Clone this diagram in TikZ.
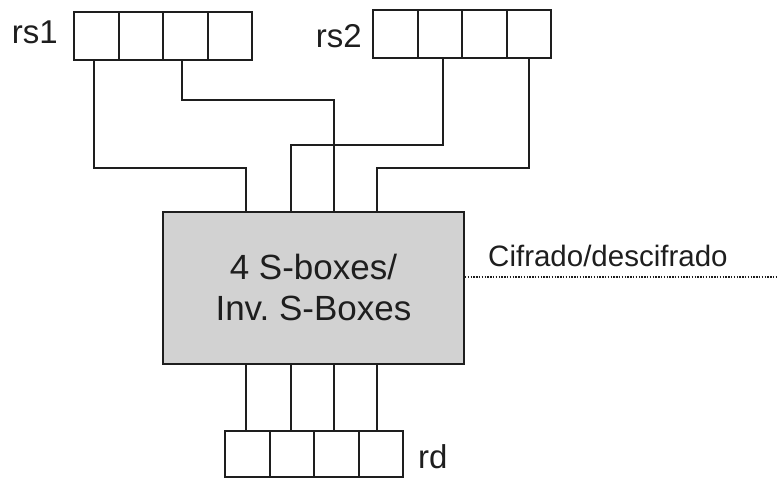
\documentclass[tikz,border=0pt]{standalone}
\usepackage{fontspec}
\setmainfont{Liberation Sans}
\frenchspacing
\definecolor{ink}{HTML}{1E1E1E}
\definecolor{boxgray}{HTML}{D2D2D2}
\begin{document}
\begin{tikzpicture}[x=1pt,y=-1pt,
  wire/.style={draw=ink, line width=1.9pt},
  cell/.style={draw=ink, line width=1.9pt, minimum width=44.6pt,
               minimum height=48pt, inner sep=0pt, outer sep=0pt},
  rdcell/.style={cell, minimum height=46pt},
  regname/.style={inner sep=0pt, text=ink, font=\fontsize{33}{38}\selectfont},
  sboxstyle/.style={draw=ink, line width=1.9pt, fill=boxgray,
               minimum width=301pt, minimum height=152pt, inner sep=0pt,
               align=center, text=ink, font=\fontsize{35}{41}\selectfont},
  ctrllabel/.style={inner sep=0pt, text=ink, font=\fontsize{29.5}{34}\selectfont},
  ctrlline/.style={draw=ink, line width=1.2pt, dash pattern=on 1.4pt off 1.4pt}]
\useasboundingbox (0,0) rectangle (778,478);

% source register rs1
\node[cell, anchor=north west] (a1) at (74,12) {};
\node[cell, anchor=west] (a2) at (a1.east) {};
\node[cell, anchor=west] (a3) at (a2.east) {};
\node[cell, anchor=west] (a4) at (a3.east) {};
\node[regname, anchor=base east] (rs1) at (58,44) {rs1};

% source register rs2
\node[cell, anchor=north west] (b1) at (373,10) {};
\node[cell, anchor=west] (b2) at (b1.east) {};
\node[cell, anchor=west] (b3) at (b2.east) {};
\node[cell, anchor=west] (b4) at (b3.east) {};
\node[regname, anchor=base east] (rs2) at (362,48) {rs2};

% S-box block
\node[sboxstyle, anchor=north west] (sb) at (162,211) {4 S-boxes/\\Inv. S-Boxes};

% destination register rd
\node[rdcell, anchor=north west] (d1) at (225,431) {};
\node[rdcell, anchor=west] (d2) at (d1.east) {};
\node[rdcell, anchor=west] (d3) at (d2.east) {};
\node[rdcell, anchor=west] (d4) at (d3.east) {};
\node[regname, anchor=base west] (rd) at (418,468) {rd};

% S-box input taps
\coordinate (in1) at ([xshift=84pt]sb.north west);
\coordinate (in2) at ([xshift=129pt]sb.north west);
\coordinate (in3) at ([xshift=172pt]sb.north west);
\coordinate (in4) at ([xshift=215pt]sb.north west);

% wires from the source registers
\draw[wire] ([xshift=-2pt]a1.south) -- ++(0,108) -| (in1);
\draw[wire] ([xshift=-3.5pt]a3.south) -- ++(0,40) -| (in3);
\draw[wire] ([xshift=3pt]b2.south) -- ++(0,87) -| (in2);
\draw[wire] (b4.south) -- ++(0,110) -| (in4);

% wires to the destination register
\foreach \i in {1,2,3,4}
  \draw[wire] (in\i |- sb.south) -- (in\i |- d\i.north);

% encrypt/decrypt control
\coordinate (ctl) at (778,277);
\draw[ctrlline] (sb.east |- ctl) -- (ctl);
\node[ctrllabel, anchor=base west] (mode) at (488,266) {Cifrado/descifrado};
\end{tikzpicture}
\end{document}
